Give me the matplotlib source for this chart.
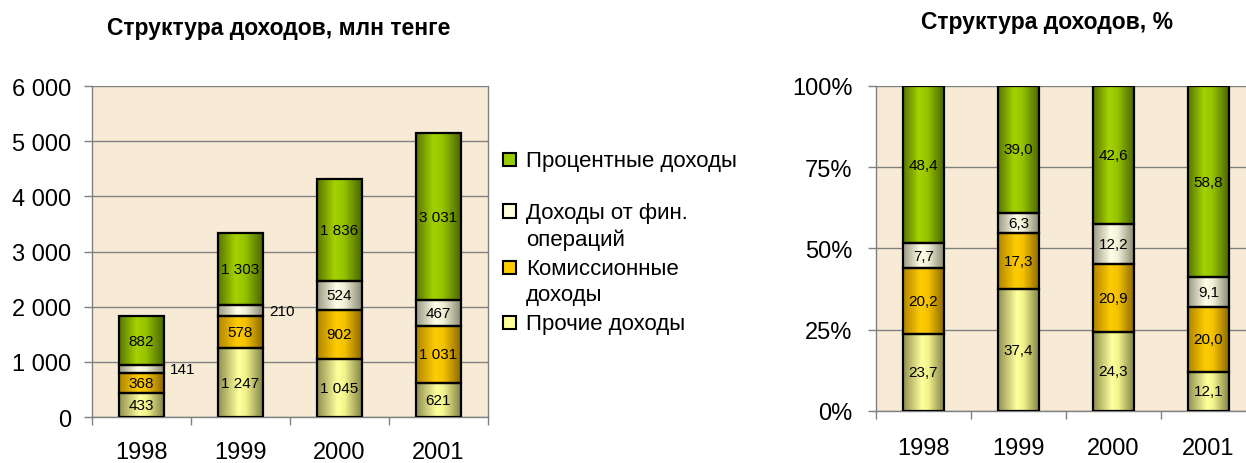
"""Income structure: absolute (mln tenge) and percentage stacked bars."""

import matplotlib
matplotlib.use("Agg")
import matplotlib.pyplot as plt
import numpy as np
from matplotlib.colors import LinearSegmentedColormap
from matplotlib.patches import Rectangle
from matplotlib.ticker import FuncFormatter

plt.rcParams["font.family"] = ["Liberation Sans", "DejaVu Sans"]

years = ["1998", "1999", "2000", "2001"]

# mln tenge, bottom to top
other_income = [433, 1247, 1045, 621]
commission_income = [368, 578, 902, 1031]
fin_ops_income = [141, 210, 524, 467]
interest_income = [882, 1303, 1836, 3031]

# shares, %
other_pct = [23.7, 37.4, 24.3, 12.1]
commission_pct = [20.2, 17.3, 20.9, 20.0]
fin_ops_pct = [7.7, 6.3, 12.2, 9.1]
interest_pct = [48.4, 39.0, 42.6, 58.8]

series_names = ["Прочие доходы", "Комиссионные\nдоходы",
                "Доходы от фин.\nопераций", "Процентные доходы"]

BG = "#f8ebd6"
GRID = "#808080"

gradients = [
    [(0, "#8f8f50"), (0.45, "#ffff9c"), (0.6, "#f4f48e"), (1, "#7c7c44")],
    [(0, "#b08400"), (0.42, "#ffcc00"), (0.6, "#f4c200"), (1, "#866400")],
    [(0, "#9a9a84"), (0.42, "#ffffe8"), (0.6, "#f0f0d6"), (1, "#84846e")],
    [(0, "#587400"), (0.38, "#a4d200"), (0.58, "#96c400"), (1, "#466000")],
]
swatch = ["#ffff99", "#ffcc00", "#ffffdd", "#99cc00"]
cmaps = [LinearSegmentedColormap.from_list(f"g{i}", g) for i, g in enumerate(gradients)]
grad = np.linspace(0, 1, 256).reshape(1, -1)


def stacked(ax, stacks, width, fmt, outside=()):
    x = np.arange(len(years))
    bottom = np.zeros(len(years))
    for k, vals in enumerate(stacks):
        vals = np.asarray(vals, dtype=float)
        bars = ax.bar(x, vals, width, bottom=bottom, facecolor="none",
                      edgecolor="black", linewidth=1.6, zorder=3)
        for patch in bars:
            x0, y0 = patch.get_x(), patch.get_y()
            im = ax.imshow(grad, extent=[x0, x0 + patch.get_width(), y0,
                                         y0 + patch.get_height()],
                           aspect="auto", cmap=cmaps[k], zorder=2.5)
            im.set_clip_path(patch)
        for i, v in enumerate(vals):
            yc = bottom[i] + v / 2
            if (k, i) in outside:
                ax.text(x[i] + width / 2 + 0.06, yc, fmt(v), ha="left",
                        va="center", fontsize=11, zorder=4)
            else:
                ax.text(x[i], yc, fmt(v), ha="center", va="center",
                        fontsize=11, zorder=4)
        bottom += vals


def style(ax, ylim, yticks, yfmt, xpad):
    ax.set_facecolor(BG)
    ax.set_xlim(-0.5, len(years) - 0.5)
    ax.set_ylim(*ylim)
    ax.set_yticks(yticks)
    ax.yaxis.set_major_formatter(FuncFormatter(yfmt))
    ax.grid(axis="y", color=GRID, linewidth=1, zorder=1)
    ax.set_axisbelow(True)
    ax.set_xticks(np.arange(len(years)))
    ax.set_xticklabels(years)
    ax.set_xticks(np.arange(len(years) + 1) - 0.5, minor=True)
    ax.tick_params(axis="x", which="major", length=0, pad=xpad, labelsize=17)
    ax.tick_params(axis="x", which="minor", length=6, width=1, color=GRID)
    ax.tick_params(axis="y", length=6, width=1, color=GRID, pad=9,
                   labelsize=17)
    for side in ("left", "bottom", "right"):
        ax.spines[side].set_color(GRID)
        ax.spines[side].set_linewidth(1)
    ax.spines["top"].set_visible(False)


fig = plt.figure(figsize=(12.46, 4.64), dpi=100)

ax1 = fig.add_axes([0.0738, 0.0991, 0.3178, 0.7134])
stacked(ax1, [other_income, commission_income, fin_ops_income, interest_income],
        0.455, lambda v: f"{int(v):,}".replace(",", " "),
        outside={(2, 0), (2, 1)})
style(ax1, (0, 6000), np.arange(0, 6001, 1000),
      lambda v, p: f"{int(v):,}".replace(",", " "), 17.5)

ax2 = fig.add_axes([0.7030, 0.1121, 0.3050, 0.7004])
stacked(ax2, [other_pct, commission_pct, fin_ops_pct, interest_pct],
        0.44, lambda v: f"{v:.1f}".replace(".", ","))
style(ax2, (0, 100), [0, 25, 50, 75, 100], lambda v, p: f"{int(v)}%", 19)
ax2.tick_params(axis="y", pad=11)

fig.text(279 / 1246, 1 - 28 / 464, "Структура доходов, млн тенге",
         ha="center", va="center", fontsize=16.5, fontweight="bold")
fig.text(1047 / 1246, 1 - 22 / 464, "Структура доходов, %",
         ha="center", va="center", fontsize=16.5, fontweight="bold")

# legend, drawn by hand: entries are anchored on their first text line
legend_rows = [160, 212, 268, 323]  # px from top, first line of each entry
for k, row in zip([3, 2, 1, 0], legend_rows):
    yf = 1 - row / 464
    fig.patches.append(Rectangle((503 / 1246, yf - 6.5 / 464), 13 / 1246,
                                 13 / 464, transform=fig.transFigure,
                                 facecolor=swatch[k], edgecolor="black",
                                 linewidth=1.5))
    fig.text(526 / 1246, yf + 9 / 464, series_names[k], ha="left",
             va="top", multialignment="left", fontsize=16, linespacing=1.32)

fig.savefig("out.png", dpi=100)
